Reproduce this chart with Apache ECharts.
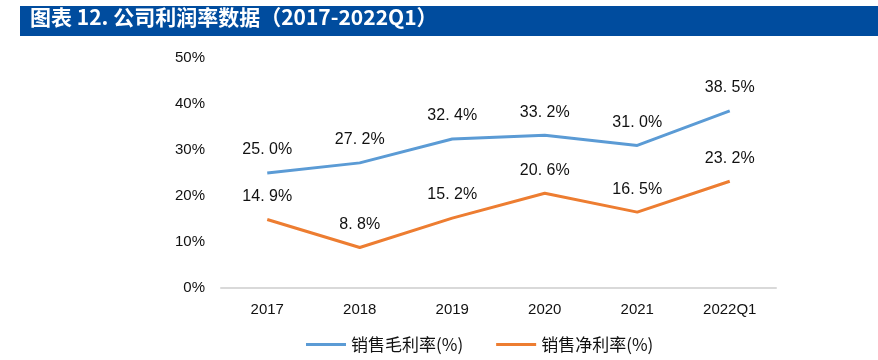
<!DOCTYPE html>
<html><head><meta charset="utf-8">
<script src="https://cdn.jsdelivr.net/npm/echarts@6/dist/echarts.min.js"></script>
<style>html,body{margin:0;padding:0;background:#fff}#c{width:878px;height:360px}</style>
</head><body><div id="c"></div>
<script>
const categories = ['2017','2018','2019','2020','2021','2022Q1'];
const grossMargin = [25.0, 27.2, 32.4, 33.2, 31.0, 38.5];
const netMargin = [14.9, 8.8, 15.2, 20.6, 16.5, 23.2];
const seriesNames = ['销售毛利率(%)', '销售净利率(%)'];
const titleText = '图表 12. 公司利润率数据（2017-2022Q1）';

const chart = echarts.init(document.getElementById('c'));
const fontFam = '"Liberation Sans", Arial, "Noto Sans CJK SC", sans-serif';
const lbl = {show:true, position:'top', distance:15, color:'#111', fontSize:16, fontFamily:fontFam,
  formatter: p => p.value.toFixed(1).replace('.', '. ') + '%'};
chart.setOption({
  animation:false,
  graphic:[
    {type:'rect', shape:{x:20,y:6,width:858,height:30}, style:{fill:'#004C9E'}},
    {type:'text', left:30, top:7, style:{text:titleText, fill:'#fff', font:'bold 21px "Noto Sans CJK SC", sans-serif'}}
  ],
  grid:{left:221, right:102, top:58, bottom:72},
  legend:{bottom:2, left:301, itemWidth:40, itemHeight:3, itemGap:33,
    textStyle:{fontSize:17, color:'#111', fontFamily:'"Noto Sans CJK SC", sans-serif'},
    data:seriesNames.map(n=>({name:n, icon:'rect'}))},
  xAxis:{type:'category', data:categories, boundaryGap:true,
    axisLine:{lineStyle:{color:'#d9d9d9', width:2}}, axisTick:{show:false},
    axisLabel:{color:'#111', fontSize:15, margin:14, fontFamily:fontFam}},
  yAxis:{type:'value', min:0, max:50, interval:10,
    axisLabel:{formatter:'{value}%', color:'#111', fontSize:15, margin:16, fontFamily:fontFam},
    splitLine:{show:false}, axisLine:{show:false}, axisTick:{show:false}},
  series:[
    {name:seriesNames[0], type:'line', data:grossMargin, symbol:'circle', symbolSize:0, lineStyle:{color:'#5B9BD5', width:3}, itemStyle:{color:'#5B9BD5'}, label:lbl},
    {name:seriesNames[1], type:'line', data:netMargin, symbol:'circle', symbolSize:0, lineStyle:{color:'#ED7D31', width:3}, itemStyle:{color:'#ED7D31'}, label:lbl}
  ]
});
</script></body></html>
